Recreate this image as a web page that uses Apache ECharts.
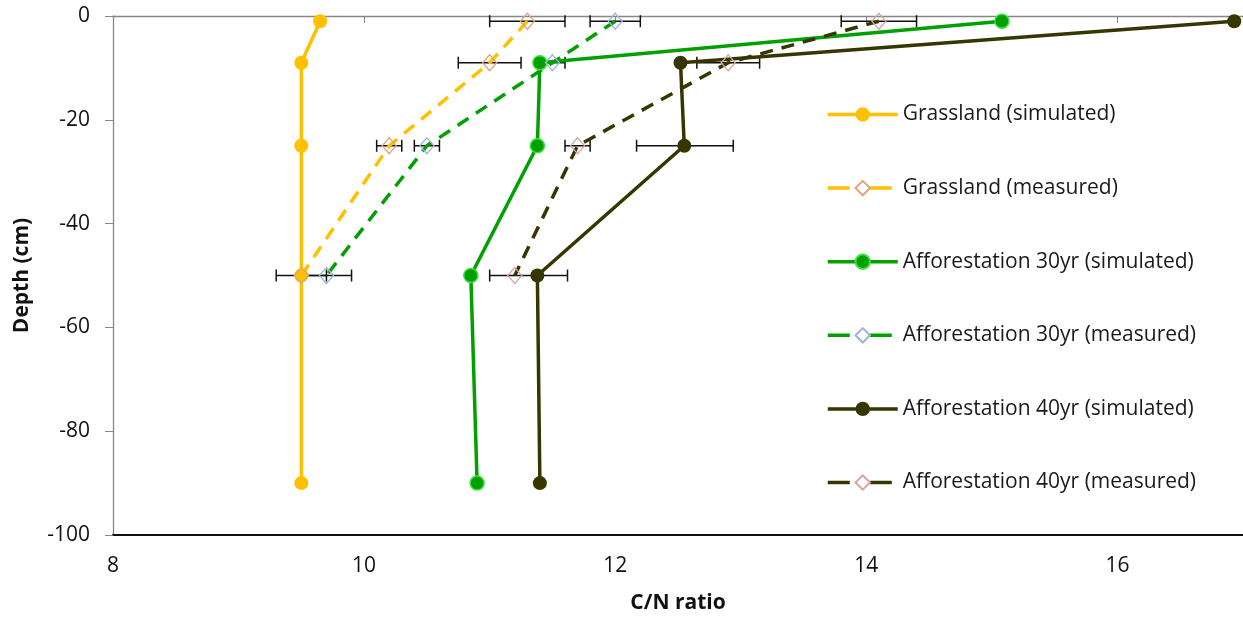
<!DOCTYPE html>
<html>
<head>
<meta charset="utf-8">
<script src="https://cdn.jsdelivr.net/npm/echarts@6/dist/echarts.min.js"></script>
<style>
  html, body { margin: 0; padding: 0; background: #fff; }
  #chart { width: 1243px; height: 620px; }
</style>
</head>
<body>
<div id="chart"></div>
<script>
// depth of each sample (cm, negative = below surface)
const depthSim  = [-1, -9, -25, -50, -90];
const depthMeas = [-1, -9, -25, -50];

// C/N ratio values
const grassSim  = [9.65, 9.5, 9.5, 9.5, 9.5];
const grassMeas = [11.3, 11.0, 10.2, 9.5];
const aff30Sim  = [15.08, 11.4, 11.38, 10.85, 10.9];
const aff30Meas = [12.0, 11.5, 10.5, 9.7];
const aff40Sim  = [16.93, 12.52, 12.55, 11.38, 11.4];
const aff40Meas = [14.1, 12.9, 11.7, 11.2];

// horizontal error bars: depth, low, high
const errDepth = [-1, -9, -25, -50,  -1, -9, -25, -50,  -1, -9, -25, -50, -25];
const errLow   = [11.0, 10.75, 10.1, 9.3,  11.8, 11.4, 10.4, 9.5,  13.8, 12.65, 11.6, 11.0, 12.17];
const errHigh  = [11.6, 11.25, 10.3, 9.7,  12.2, 11.6, 10.6, 9.9,  14.4, 13.15, 11.8, 11.62, 12.94];

const xTicks = { min: 8, max: 17, interval: 2 };
const yTicks = { min: -100, max: 0, interval: 20 };

const FONT = '"Open Sans", "Noto Sans", sans-serif';
const FS = 21;
const YELLOW = '#FFC000';
const GREEN = '#00A000';
const DARK = '#363600';
const AXIS_GREY = '#868686';

const pairs = (xs, ds) => xs.map((x, i) => [x, ds[i]]);

function simSeries(name, xs, color, border) {
  return {
    name, type: 'line', data: pairs(xs, depthSim),
    symbol: 'circle', symbolSize: 14,
    lineStyle: { color, width: 3.5 },
    itemStyle: { color, borderColor: border || color, borderWidth: border ? 1.5 : 0 },
    z: 3,
  };
}

function measSeries(name, xs, color, markerColor) {
  return {
    name, type: 'line', data: pairs(xs, depthMeas),
    symbol: 'diamond', symbolSize: [14, 16],
    lineStyle: { color, width: 3.5, type: [13, 9] },
    itemStyle: { color: 'rgba(255,255,255,0)', borderColor: markerColor, borderWidth: 1.3 },
    z: 3,
  };
}

// legend entries: solid for simulated, split dash for measured
const simLegend = (name) => ({ name, lineStyle: { width: 3.5 } });
const measLegend = (name) => ({ name, itemStyle: { color: '#fff' },
  lineStyle: { width: 3.5, type: [22, 20, 22, 10] } });

const chart = echarts.init(document.getElementById('chart'), null, { renderer: 'canvas' });

chart.setOption({
  animation: false,
  backgroundColor: '#fff',
  grid: { left: 113, top: 16, right: -4, bottom: 85 },
  legend: {
    orient: 'vertical', left: 821, top: 99,
    itemWidth: 70, itemHeight: 18, itemGap: 52.6,
    data: [
      simLegend('Grassland (simulated)'), measLegend('Grassland (measured)'),
      simLegend('Afforestation 30yr (simulated)'), measLegend('Afforestation 30yr (measured)'),
      simLegend('Afforestation 40yr (simulated)'), measLegend('Afforestation 40yr (measured)'),
    ],
    textStyle: { fontFamily: FONT, fontSize: FS, color: '#1a1a1a' },
  },
  xAxis: [{
    type: 'value', position: 'bottom',
    min: xTicks.min, max: xTicks.max, interval: xTicks.interval,
    name: 'C/N ratio', nameLocation: 'middle', nameGap: 58,
    nameTextStyle: { fontFamily: FONT, fontSize: FS, fontWeight: 'bold', color: '#111' },
    axisLine: { onZero: false, lineStyle: { color: '#111', width: 2 } },
    axisTick: { show: false },
    axisLabel: { fontFamily: FONT, fontSize: FS, color: '#111', margin: 21, showMaxLabel: false },
    splitLine: { show: false },
  }, {
    type: 'value', position: 'top',
    min: xTicks.min, max: xTicks.max, interval: xTicks.interval,
    axisLine: { onZero: false, lineStyle: { color: AXIS_GREY, width: 1.3 } },
    axisTick: { inside: true, length: 7, lineStyle: { color: AXIS_GREY } },
    axisLabel: { show: false },
    splitLine: { show: false },
  }],
  yAxis: {
    type: 'value', min: yTicks.min, max: yTicks.max, interval: yTicks.interval,
    name: 'Depth (cm)', nameLocation: 'middle', nameGap: 80, nameRotate: 90,
    nameTextStyle: { fontFamily: FONT, fontSize: FS, fontWeight: 'bold', color: '#111' },
    axisLine: { onZero: false, lineStyle: { color: AXIS_GREY, width: 1.3 } },
    axisTick: { length: 8, lineStyle: { color: AXIS_GREY } },
    axisLabel: { fontFamily: FONT, fontSize: FS, color: '#111', margin: 23 },
    splitLine: { show: false },
  },
  series: [
    {
      name: 'error', type: 'custom', z: 2,
      data: errDepth.map((d, i) => [errLow[i], errHigh[i], d]),
      renderItem: (params, api) => {
        const a = api.coord([api.value(0), api.value(2)]);
        const b = api.coord([api.value(1), api.value(2)]);
        const h = 6;
        const style = { stroke: '#111', lineWidth: 1.5 };
        return {
          type: 'group',
          children: [
            { type: 'line', shape: { x1: a[0], y1: a[1], x2: b[0], y2: b[1] }, style },
            { type: 'line', shape: { x1: a[0], y1: a[1] - h, x2: a[0], y2: a[1] + h }, style },
            { type: 'line', shape: { x1: b[0], y1: b[1] - h, x2: b[0], y2: b[1] + h }, style },
          ],
        };
      },
    },
    simSeries('Grassland (simulated)', grassSim, YELLOW),
    measSeries('Grassland (measured)', grassMeas, YELLOW, '#E0A27A'),
    simSeries('Afforestation 30yr (simulated)', aff30Sim, GREEN, '#3BE03B'),
    measSeries('Afforestation 30yr (measured)', aff30Meas, GREEN, '#9DB4D8'),
    simSeries('Afforestation 40yr (simulated)', aff40Sim, DARK),
    measSeries('Afforestation 40yr (measured)', aff40Meas, DARK, '#D9A3A3'),
  ],
});
</script>
</body>
</html>
